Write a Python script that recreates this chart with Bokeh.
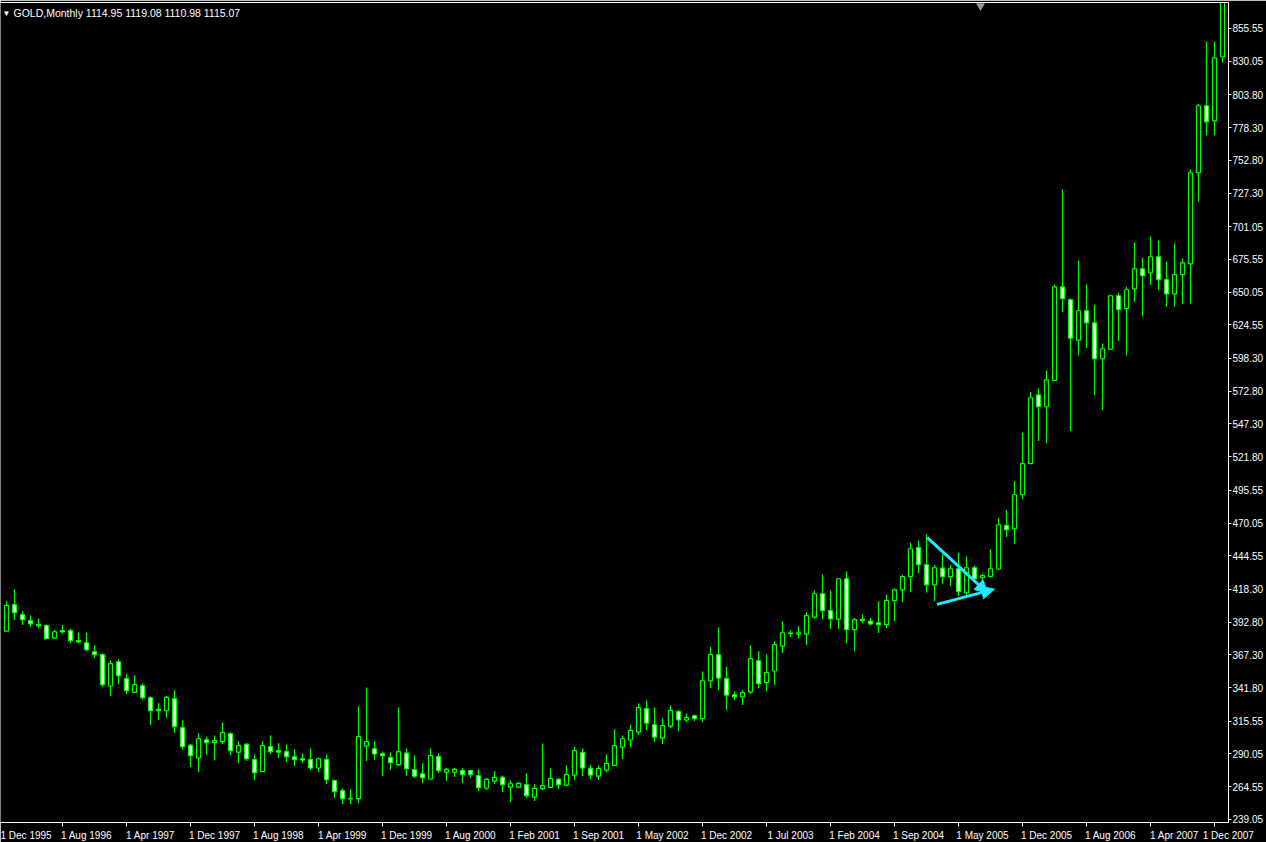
from bokeh.plotting import figure
from bokeh.models import (FixedTicker, PrintfTickFormatter, CustomJSTickFormatter, Range1d,
                          LinearAxis, Arrow, NormalHead, Label, ColumnDataSource)
from bokeh.embed import file_html
from bokeh.resources import INLINE

# ---------------- data ----------------
symbol_title = "GOLD,Monthly"
last_quote = "1114.95 1119.08 1110.98 1115.07"

bar_num = list(range(-1, 153))

opens = [386.2, 385.8, 406.4, 398.6, 393.9, 390.8, 390.0, 380.4, 386.1, 386.1,
         378.3, 376.7, 369.7, 367.4, 343.0, 361.9, 348.7, 338.0, 343.2, 333.9,
         324.8, 323.7, 333.1, 310.5, 296.7, 286.9, 301.1, 298.8, 299.6, 305.8,
         291.5, 297.5, 285.6, 276.2, 295.7, 292.6, 291.8, 287.9, 286.3, 285.6,
         279.1, 285.6, 269.2, 261.4, 255.4, 255.2, 296.2, 294.1, 290.2, 287.1,
         281.7, 290.7, 277.8, 274.6, 270.5, 287.9, 275.9, 275.9, 277.0, 277.0,
         273.1, 263.5, 268.9, 271.8, 264.2, 264.2, 266.1, 256.4, 263.0, 264.0,
         270.2, 265.8, 273.6, 291.0, 278.8, 272.8, 277.5, 281.1, 295.4, 300.9,
         307.1, 325.3, 312.8, 302.4, 311.8, 323.0, 316.5, 319.8, 317.5, 347.1,
         367.4, 348.7, 336.2, 334.6, 338.3, 362.7, 345.6, 354.7, 374.1, 383.8,
         383.5, 383.5, 396.7, 414.9, 401.7, 395.2, 426.6, 386.9, 393.9, 393.6,
         392.3, 390.8, 409.5, 418.0, 428.2, 450.8, 437.5, 421.9, 434.9, 428.2,
         434.4, 415.7, 435.2, 427.4, 428.4, 434.2, 468.2, 465.6, 492.1, 516.3,
         570.0, 560.7, 581.2, 654.2, 644.1, 612.6, 635.5, 626.1, 598.1, 605.6,
         647.2, 637.1, 652.6, 668.2, 665.1, 677.6, 659.7, 648.7, 663.6, 672.1,
         743.1, 795.3, 783.6, 833.5]

highs = [388.0, 409.0, 418.3, 401.2, 398.0, 395.7, 390.8, 386.9, 390.3, 387.7,
         384.8, 384.8, 374.7, 368.4, 363.0, 363.8, 352.1, 351.3, 345.0, 334.9,
         329.5, 335.2, 339.6, 316.2, 297.8, 306.1, 303.7, 304.5, 314.6, 306.9,
         299.8, 298.5, 289.7, 299.8, 304.5, 298.5, 297.5, 293.6, 290.5, 294.4,
         287.4, 289.7, 270.2, 263.2, 262.4, 327.1, 341.9, 299.8, 292.0, 291.3,
         326.3, 294.4, 288.9, 282.7, 294.4, 290.5, 279.3, 279.1, 279.3, 277.5,
         278.0, 271.3, 276.5, 273.3, 269.4, 268.1, 274.9, 266.6, 298.3, 278.8,
         271.5, 281.1, 295.7, 294.4, 281.7, 281.1, 289.7, 309.2, 304.5, 312.6,
         329.5, 331.8, 326.3, 317.8, 327.9, 324.3, 321.7, 320.6, 354.4, 373.6,
         388.7, 358.0, 338.8, 339.6, 374.7, 370.0, 367.6, 377.8, 393.4, 386.4,
         389.5, 400.4, 417.5, 430.0, 417.5, 426.6, 432.3, 396.0, 398.8, 396.0,
         409.0, 414.2, 419.1, 429.7, 454.7, 456.2, 461.2, 437.5, 445.8, 437.5,
         446.9, 444.0, 437.0, 430.8, 449.5, 474.0, 480.1, 502.7, 540.7, 572.4,
         575.0, 589.0, 655.8, 730.1, 644.9, 674.7, 656.0, 640.4, 610.0, 648.0,
         649.5, 654.2, 688.8, 677.1, 693.4, 690.3, 674.0, 688.0, 676.3, 745.7,
         796.8, 845.4, 845.4, 893.0]

lows = [384.5, 385.8, 394.4, 390.5, 389.0, 388.2, 379.3, 379.6, 384.0, 376.5,
        376.5, 370.2, 364.8, 342.2, 335.2, 344.3, 336.7, 337.3, 332.1, 312.6,
        316.5, 318.0, 306.3, 293.6, 279.8, 275.9, 289.2, 285.0, 297.8, 289.2,
        283.0, 284.5, 269.7, 275.9, 290.0, 286.9, 283.7, 280.6, 283.0, 277.5,
        275.9, 266.6, 255.7, 251.0, 251.0, 251.8, 284.5, 285.3, 272.8, 277.5,
        280.6, 272.8, 271.3, 267.4, 269.7, 275.2, 268.9, 272.0, 267.4, 271.3,
        261.1, 261.9, 266.6, 260.3, 252.6, 263.5, 255.7, 253.3, 261.9, 263.5,
        262.7, 264.8, 269.7, 272.6, 270.5, 269.7, 275.7, 280.6, 286.1, 295.4,
        304.8, 308.7, 299.3, 297.8, 310.0, 307.9, 314.9, 315.7, 314.9, 341.4,
        339.8, 324.3, 332.1, 328.2, 337.0, 341.1, 339.1, 343.7, 368.7, 381.2,
        380.1, 374.9, 395.4, 394.9, 387.4, 387.4, 376.5, 370.2, 391.8, 390.2,
        384.3, 388.2, 393.6, 408.4, 416.2, 431.0, 415.7, 409.2, 422.7, 420.9,
        413.1, 413.1, 425.6, 424.8, 427.7, 433.4, 459.1, 453.6, 488.5, 516.3,
        533.9, 532.4, 581.2, 634.5, 541.7, 600.9, 606.4, 569.8, 558.1, 605.6,
        611.9, 600.9, 642.3, 631.3, 655.5, 651.6, 638.6, 638.6, 640.7, 641.0,
        720.5, 772.4, 772.4, 829.0]

closes = [386.0, 405.8, 400.1, 394.7, 391.5, 390.0, 379.9, 385.3, 385.1, 378.3,
          377.3, 371.3, 367.4, 344.0, 360.4, 351.0, 339.3, 344.0, 333.9, 323.7,
          323.7, 334.1, 311.3, 295.7, 288.7, 301.9, 298.8, 300.4, 306.6, 292.6,
          296.5, 286.3, 275.4, 296.5, 291.8, 291.5, 287.9, 285.6, 285.3, 279.1,
          286.3, 270.0, 260.6, 255.2, 254.9, 303.5, 299.6, 290.0, 288.7, 283.2,
          291.8, 278.5, 272.8, 271.5, 288.7, 277.0, 278.0, 278.0, 273.9, 273.9,
          263.7, 270.2, 271.8, 266.1, 266.8, 267.1, 257.5, 263.2, 265.3, 271.0,
          266.1, 273.9, 292.6, 279.1, 273.6, 278.8, 282.7, 296.5, 301.9, 308.4,
          326.1, 314.1, 303.2, 312.1, 324.0, 316.5, 318.3, 317.5, 347.1, 367.4,
          349.2, 335.9, 334.6, 337.8, 364.3, 344.8, 353.4, 375.2, 384.5, 384.3,
          384.5, 397.8, 414.9, 401.7, 395.4, 426.6, 386.9, 394.7, 394.9, 391.5,
          390.8, 409.5, 418.0, 428.2, 450.0, 437.5, 421.9, 435.2, 428.2, 434.4,
          416.5, 435.2, 426.6, 429.0, 434.4, 468.7, 464.8, 492.1, 516.3, 567.7,
          560.7, 581.7, 654.2, 644.9, 614.2, 635.5, 626.1, 598.1, 605.9, 647.2,
          636.3, 651.9, 668.2, 662.8, 677.6, 659.7, 648.7, 663.6, 672.9, 743.1,
          795.3, 782.8, 832.7, 889.0]

date_labels = ["1 Dec 1995", "1 Aug 1996", "1 Apr 1997", "1 Dec 1997", "1 Aug 1998",
               "1 Apr 1999", "1 Dec 1999", "1 Aug 2000", "1 Feb 2001", "1 Sep 2001",
               "1 May 2002", "1 Dec 2002", "1 Jul 2003", "1 Feb 2004", "1 Sep 2004",
               "1 May 2005", "1 Dec 2005", "1 Aug 2006", "1 Apr 2007", "1 Dec 2007"]
label_bars = [-1, 7, 15, 23, 31, 39, 47, 55, 63, 71, 79, 87, 95, 103, 111, 119,
              127, 135, 143, 151]

price_ticks = [855.55, 830.05, 803.80, 778.30, 752.80, 727.30, 701.05, 675.55,
               650.05, 624.55, 598.30, 572.80, 547.30, 521.80, 495.55, 470.05,
               444.55, 418.30, 392.80, 367.30, 341.80, 315.55, 290.05, 264.55, 239.05]

# drawn trend arrows (objects on the chart)
arrow_x0 = [115.1, 116.3]
arrow_y0 = [458.6, 406.6]
arrow_x1 = [122.7, 123.5]
arrow_y1 = [415.2, 418.5]

shift_marker_bar = 121.75

# ---------------- styling ----------------
GREEN = "#00ff00"
CYAN = "#20eaff"
FONT = "Liberation Sans"

FRAME_W = 1228
FRAME_H = 820
BAR_PX = 8
x_lo = -0.75
x_hi = x_lo + FRAME_W / BAR_PX
y_lo, y_hi = 236.6, 875.8

p = figure(frame_width=FRAME_W, frame_height=FRAME_H, output_backend="svg",
           toolbar_location=None,
           x_range=Range1d(x_lo, x_hi), y_range=Range1d(y_lo, y_hi),
           y_axis_location="right", background_fill_color="black",
           border_fill_color="black")
p.min_border_left = 0
p.min_border_right = 0
p.min_border_top = 2
p.min_border_bottom = 0
p.outline_line_color = None
p.grid.visible = False

# candles
tops = [max(o, c) for o, c in zip(opens, closes)]
bottoms = [min(o, c) for o, c in zip(opens, closes)]
fills = ["black" if c > o else "white" for o, c in zip(opens, closes)]
src = ColumnDataSource(dict(x=bar_num, o=opens, h=highs, l=lows, c=closes,
                            top=tops, bottom=bottoms, fill=fills))
p.segment(x0="x", y0="l", x1="x", y1="h", source=src, line_color=GREEN, line_width=1.2)
p.vbar(x="x", width=0.5, top="top", bottom="bottom", source=src,
       fill_color="fill", line_color=GREEN, line_width=1.2)

# arrows
for xs, ys, xe, ye in zip(arrow_x0, arrow_y0, arrow_x1, arrow_y1):
    p.add_layout(Arrow(x_start=xs, y_start=ys, x_end=xe, y_end=ye,
                       line_color=CYAN, line_width=3,
                       end=NormalHead(size=13, fill_color=CYAN, line_color=CYAN)))

# shift marker
p.scatter(x=[shift_marker_bar], y=[y_hi - 2.6], marker="inverted_triangle", size=9,
          fill_color="#8a9bab", line_color=None)

# header
p.add_layout(Label(x=x_lo, y=y_hi, x_offset=2, y_offset=-6, text="\u25bc",
                   text_color="white", text_font_size="8px", text_baseline="top"))
p.add_layout(Label(x=x_lo, y=y_hi, x_offset=13, y_offset=-4,
                   text=symbol_title + "   " + last_quote,
                   text_color="white", text_font=FONT, text_font_size="10.5px",
                   text_baseline="top"))

# right price axis
ya = p.yaxis[0]
ya.ticker = FixedTicker(ticks=price_ticks)
ya.formatter = PrintfTickFormatter(format="%.2f")
ya.axis_line_color = "white"
ya.major_tick_line_color = "white"
ya.major_tick_in = 0
ya.major_tick_out = 3
ya.minor_tick_line_color = None
ya.minor_tick_out = 0
ya.major_label_text_color = "white"
ya.major_label_text_font = FONT
ya.major_label_text_font_size = "10px"
ya.major_label_standoff = 1

# bottom date axis: minor ticks at bars, labels just right of them
centers = [min(b + 3.0, x_hi - 0.02) for b in label_bars]
xa = p.xaxis[0]
xa.ticker = FixedTicker(ticks=centers, minor_ticks=label_bars)
xa.formatter = CustomJSTickFormatter(args=dict(labels=date_labels, centers=centers), code="""
let best = 0;
for (let i = 0; i < centers.length; i++) {
  if (Math.abs(centers[i] - tick) < Math.abs(centers[best] - tick)) best = i;
}
return labels[best];
""")
xa.axis_line_color = "white"
xa.major_tick_line_color = None
xa.major_tick_out = 0
xa.major_tick_in = 0
xa.minor_tick_line_color = "white"
xa.minor_tick_in = 0
xa.minor_tick_out = 4
xa.major_label_text_color = "white"
xa.major_label_text_font = FONT
xa.major_label_text_font_size = "10px"
xa.major_label_standoff = 3

# top border line
top_axis = LinearAxis(ticker=FixedTicker(ticks=[]), axis_line_color="white",
                      major_tick_line_color=None, minor_tick_line_color=None,
                      major_label_text_font_size="0px", major_label_standoff=0,
                      major_tick_out=0, minor_tick_out=0)
p.add_layout(top_axis, "above")

open("out.html", "w").write(file_html(p, INLINE))
